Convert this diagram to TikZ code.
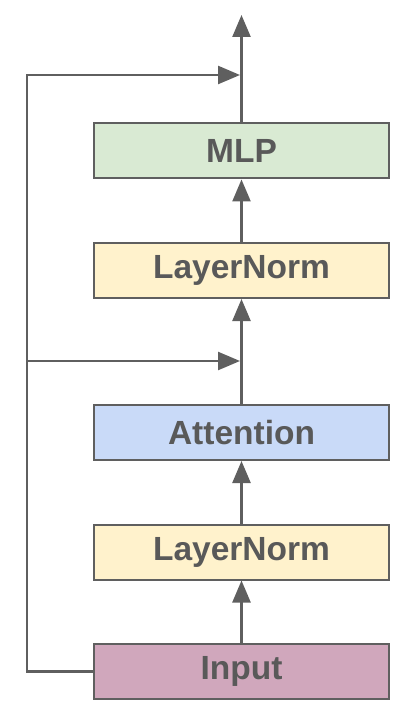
\documentclass[tikz,border=0pt]{standalone}
\usepackage{fontspec}
\setmainfont{Liberation Sans}
\usepackage{tikz}
\usetikzlibrary{arrows.meta}
\usetikzlibrary{positioning}
\definecolor{linegray}{HTML}{5F5F5F}
\definecolor{textgray}{HTML}{595959}
\definecolor{mlpgreen}{HTML}{D9EAD3}
\definecolor{normyellow}{HTML}{FFF2CC}
\definecolor{attnblue}{HTML}{C9DAF8}
\definecolor{inputpink}{HTML}{D0A7BC}
\tikzset{>={Triangle[length=22pt,width=18pt]},
  block/.style={draw=linegray, line width=2pt, minimum width=295pt,
    minimum height=55pt, inner sep=0pt, text=textgray,
    font=\fontsize{33.5}{33.5}\selectfont\bfseries},
  wire/.style={draw=linegray, line width=2.5pt}}

\begin{document}
\begin{tikzpicture}[x=1pt,y=1pt,node distance=62.5pt]
    \useasboundingbox (0,0) rectangle (417,-719);

    \node[block, fill=inputpink] (input) at (241.5,-671.5) {Input};
    \node[block, fill=normyellow, above=of input] (norm1) {LayerNorm};
    \node[block, fill=attnblue, above=of norm1] (attn) {Attention};
    \node[block, fill=normyellow, above=105pt of attn] (norm2) {LayerNorm};
    \node[block, fill=mlpgreen, above=of norm2] (mlp) {MLP};

    \coordinate (add1) at (240,-361);
    \coordinate (add2) at (240,-75);
    \coordinate (out) at (241.5,-15);
    \coordinate (skip1) at (27,-361);
    \coordinate (skip2) at (27,-75);

    \path[wire,->] (input) -- (norm1);
    \path[wire,->] (norm1) -- (attn);
    \path[wire,->] (attn) -- (norm2);
    \path[wire,->] (norm2) -- (mlp);
    \path[wire,->] (mlp) -- (out);

    \path[wire,->] (input.west) -| (skip2) -- (add2);
    \path[wire,->] (skip1) -- (add1);
  \end{tikzpicture}
\end{document}
